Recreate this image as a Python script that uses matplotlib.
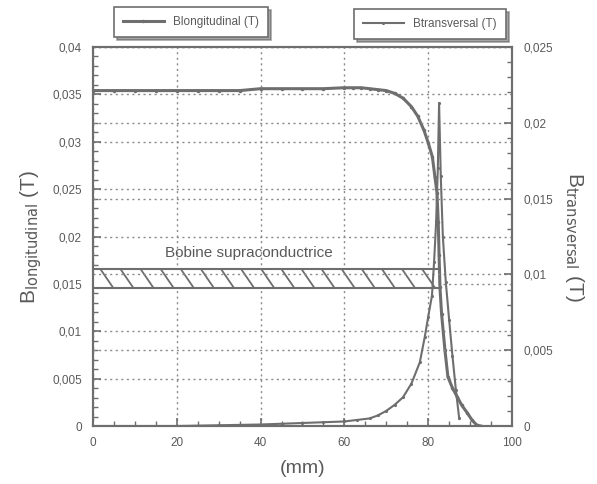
import matplotlib
matplotlib.use("Agg")
import matplotlib.pyplot as plt
import numpy as np
from matplotlib.ticker import MultipleLocator, FixedLocator, FixedFormatter
from matplotlib.patches import Rectangle

plt.rcParams['font.family'] = ['Liberation Sans', 'DejaVu Sans']

# ---------------- data ----------------
x_long = [0, 5, 10, 15, 20, 25, 30, 35, 40, 45, 50, 55, 60, 62, 64, 66, 68, 70, 72, 74,
          76, 77.5, 79, 80, 81, 81.6, 82.1, 82.4, 82.6, 82.8, 83.2, 84.0, 84.7, 85.8, 86.9,
          88.0, 89.3, 90.5, 91.6, 92.5]
y_long = [0.0354, 0.0354, 0.0354, 0.0354, 0.0354, 0.0354, 0.0354, 0.0354, 0.0356, 0.0356,
          0.0356, 0.0356, 0.0357, 0.0357, 0.0357, 0.0356, 0.0355, 0.0354, 0.0351, 0.0346,
          0.0337, 0.0327, 0.0312, 0.0299, 0.0284, 0.0263, 0.0246, 0.0215, 0.0180, 0.0147,
          0.0118, 0.0080, 0.0052, 0.0040, 0.0031, 0.0022, 0.0014, 0.0006, 0.0001, 0.0]

x_trans = [0, 10, 20, 30, 40, 45, 50, 55, 60, 63, 66, 68, 70, 72, 74, 76, 78, 79.2, 80,
           80.9, 81.4, 81.9, 82.3, 82.6, 83.0, 83.5, 84.2, 85.0, 85.8, 86.6, 87.4]
y_trans = [0, 0, 0, 0.00005, 0.0001, 0.00015, 0.0002, 0.00025, 0.0003, 0.0004, 0.0005,
           0.0007, 0.0010, 0.0014, 0.0019, 0.0028, 0.0042, 0.0059, 0.0072, 0.0086, 0.0108,
           0.0135, 0.0170, 0.0213, 0.0165, 0.0125, 0.0095, 0.0070, 0.0046, 0.0024, 0.0005]

coil_x = [0, 82.8]
coil_y = [0.0146, 0.0166]
coil_label = "Bobine supraconductrice"

left_ticks = [0, 0.005, 0.01, 0.015, 0.02, 0.025, 0.03, 0.035, 0.04]
left_labels = ["0", "0,005", "0,01", "0,015", "0,02", "0,025", "0,03", "0,035", "0,04"]
right_ticks = [0, 0.005, 0.01, 0.015, 0.02, 0.025]
right_labels = ["0", "0,005", "0,01", "0,015", "0,02", "0,025"]
x_ticks = [0, 20, 40, 60, 80, 100]

# ---------------- style ----------------
gray = '#6e6e6e'
txt = '#5a5a5a'
hatch_step = 4.8     # x units between hatch strokes
hatch_slant = 3.1    # x offset of each stroke across the coil height

fig = plt.figure(figsize=(5.97, 4.84), dpi=100)
ax = fig.add_axes([0.1558, 0.1198, 0.7018, 0.7831])
ax2 = ax.twinx()

ax.set_xlim(0, 100)
ax.set_ylim(0, 0.04)
ax2.set_ylim(0, 0.025)

ax.xaxis.set_major_locator(FixedLocator(x_ticks))
ax.xaxis.set_minor_locator(MultipleLocator(5))
ax.yaxis.set_major_locator(FixedLocator(left_ticks))
ax.yaxis.set_major_formatter(FixedFormatter(left_labels))
ax.yaxis.set_minor_locator(MultipleLocator(0.001))
ax2.yaxis.set_major_locator(FixedLocator(right_ticks))
ax2.yaxis.set_major_formatter(FixedFormatter(right_labels))
ax2.yaxis.set_minor_locator(MultipleLocator(0.001))

ax.grid(True, which='major', linestyle=(0, (1.5, 2.5)), color='#8a8a8a', linewidth=1.0)
ax2.grid(True, which='major', axis='y', linestyle=(0, (1.5, 2.5)), color='#8a8a8a', linewidth=1.0)

for a in (ax, ax2):
    for s in a.spines.values():
        s.set_color(gray)
        s.set_linewidth(1.5)
    a.tick_params(which='both', direction='in', colors=gray, labelcolor=txt, labelsize=8.5)
    a.tick_params(which='major', length=6, width=1.2)
    a.tick_params(which='minor', length=3.5, width=1.0)
ax.tick_params(axis='x', pad=8)
ax.tick_params(axis='y', pad=8)
ax2.tick_params(axis='y', pad=8)

# coil rectangle with hatch strokes clipped to it
rect = Rectangle((coil_x[0], coil_y[0]), coil_x[1] - coil_x[0], coil_y[1] - coil_y[0],
                 facecolor='white', edgecolor=gray, linewidth=1.5, zorder=3)
ax.add_patch(rect)
for xs in np.arange(coil_x[0] - hatch_slant, coil_x[1] + hatch_slant, hatch_step):
    ln, = ax.plot([xs, xs + hatch_slant], [coil_y[1], coil_y[0]], color=gray,
                  linewidth=1.3, zorder=3.5)
    ln.set_clip_path(rect)
ax.text(37.3, 0.01825, coil_label, ha='center', va='center', fontsize=11, color=txt, zorder=4)

# curves
l1, = ax.plot(x_long, y_long, color=gray, linewidth=2.2, marker='.', markersize=3, zorder=5,
              label='Blongitudinal (T)')
l2, = ax2.plot(x_trans, y_trans, color=gray, linewidth=1.5, marker='.', markersize=2.5, zorder=5,
               label='Btransversal (T)')

# axis labels
ax.set_xlabel('(mm)', fontsize=14, color=txt, labelpad=8)
ax.set_ylabel(r'B$_{\mathrm{longitudinal}}$ (T)', fontsize=15, color=txt, labelpad=6)
ax2.set_ylabel(r'B$_{\mathrm{transversal}}$ (T)', fontsize=15, color=txt, rotation=270, labelpad=24)

# legends
leg1 = fig.legend(handles=[l1], loc='center', bbox_to_anchor=(0.32, 0.954), frameon=True,
                  shadow=True, fancybox=False, fontsize=8.5, handlelength=3.5, borderpad=0.75,
                  labelcolor=txt, edgecolor=gray)
leg2 = fig.legend(handles=[l2], loc='center', bbox_to_anchor=(0.72, 0.950), frameon=True,
                  shadow=True, fancybox=False, fontsize=8.5, handlelength=3.5, borderpad=0.75,
                  labelcolor=txt, edgecolor=gray)
for lg in (leg1, leg2):
    lg.get_frame().set_linewidth(1.2)

fig.savefig('out.png', dpi=100)
